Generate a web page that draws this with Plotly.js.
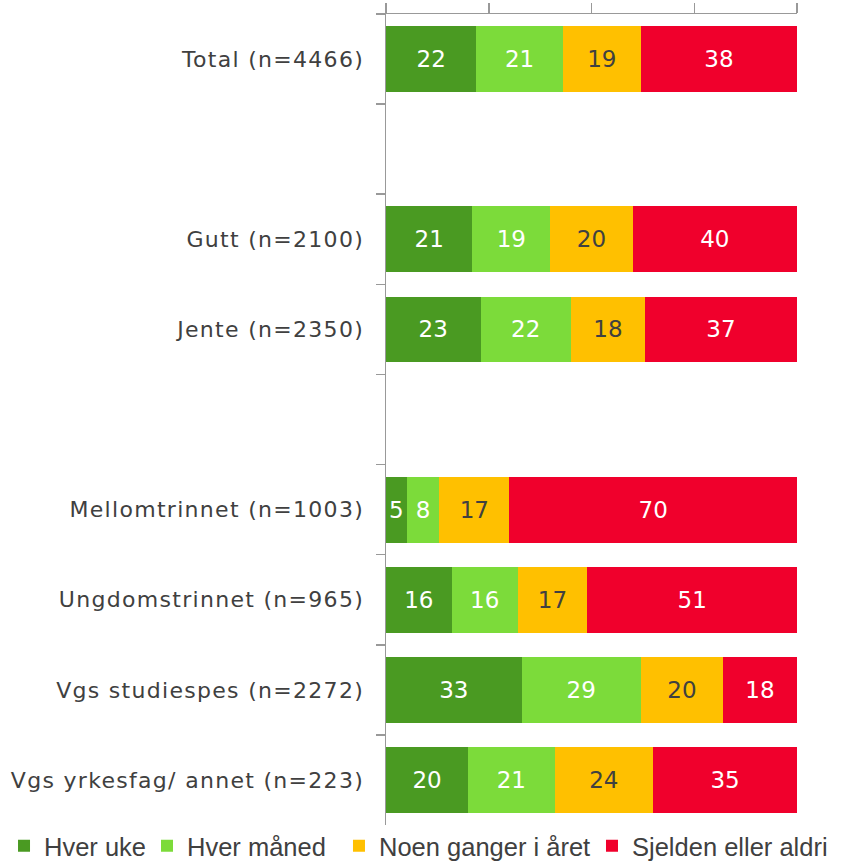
<!DOCTYPE html>
<html><head><meta charset="utf-8">
<script src="https://cdn.plot.ly/plotly-3.0.1.min.js"></script>
<style>body{margin:0;background:#fff}
.ytick text{letter-spacing:1.3px}
.textpoint text{letter-spacing:1px}
</style>
</head><body><div id="chart" style="width:844px;height:863px"></div>
<script>
const categories = ["Total (n=4466)", " ", "Gutt (n=2100)", "Jente (n=2350)", "  ",
  "Mellomtrinnet (n=1003)", "Ungdomstrinnet (n=965)", "Vgs studiespes (n=2272)", "Vgs yrkesfag/ annet (n=223)"];
const seriesNames = ["Hver uke", "Hver måned", "Noen ganger i året", "Sjelden eller aldri"];
const hverUke   = [22, null, 21, 23, null, 5, 16, 33, 20];
const hverManed = [21, null, 19, 22, null, 8, 16, 29, 21];
const noenGanger= [19, null, 20, 18, null, 17, 17, 20, 24];
const sjelden   = [38, null, 40, 37, null, 70, 51, 18, 35];
const colors = ["#4A9A22", "#7CDB3A", "#FFC000", "#F0002C"];
const textColors = ["#ffffff", "#ffffff", "#404040", "#ffffff"];

const legendIds = ["legend", "legend2", "legend3", "legend4"];
const allVals = [hverUke, hverManed, noenGanger, sjelden];
const traces = allVals.map((vals, i) => ({
  type: "bar", orientation: "h", name: seriesNames[i],
  y: categories, x: vals, legend: legendIds[i],
  marker: {color: colors[i], line: {width: 0}},
  text: vals.map(v => v == null ? "" : String(v)),
  textposition: "inside", insidetextanchor: "middle",
  textfont: {family: "DejaVu Sans", size: 23, color: textColors[i]},
  constraintext: "none", cliponaxis: false,
  hoverinfo: "skip"
}));

// legend placement (paper fractions of the plot area)
const legendX = [-0.9294, -0.5815, -0.1144, 0.5012];
const legendBase = {orientation: "h", xanchor: "left", y: 0.003, yanchor: "top",
  font: {family: "Liberation Sans Narrow, Liberation Sans", size: 25.5, color: "#404040"},
  itemwidth: 30, bgcolor: "rgba(0,0,0,0)"};

const layout = {
  barmode: "stack", bargap: 0.27,
  width: 844, height: 863,
  margin: {l: 386, r: 47, t: 14, b: 38, autoexpand: false},
  paper_bgcolor: "#fff", plot_bgcolor: "#fff",
  font: {family: "DejaVu Sans", color: "#404040"},
  xaxis: {side: "top", range: [0, 100], dtick: 25, tick0: 0, ticks: "outside", ticklen: 10,
    tickcolor: "#999", tickwidth: 1.5, showticklabels: false, showgrid: false, zeroline: false,
    showline: true, linecolor: "#999", linewidth: 1.5, fixedrange: true},
  yaxis: {autorange: "reversed", type: "category", tickson: "boundaries", ticks: "outside",
    ticklen: 9, tickcolor: "#999", tickwidth: 1.5, showline: true, linecolor: "#999", linewidth: 1.5,
    showgrid: false, ticklabelstandoff: 16,
    tickfont: {family: "DejaVu Sans", size: 22, color: "#404040"}},
  showlegend: true
};
legendIds.forEach((id, i) => { layout[id] = Object.assign({}, legendBase, {x: legendX[i]}); });
Plotly.newPlot("chart", traces, layout, {displayModeBar: false, staticPlot: true});
</script></body></html>
